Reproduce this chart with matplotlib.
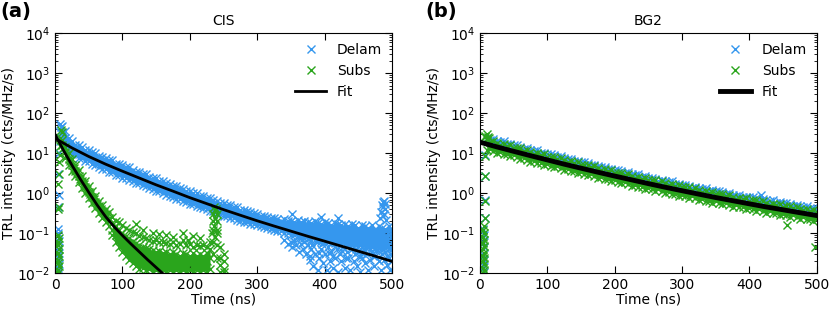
import numpy as np
import matplotlib
matplotlib.use("Agg")
from matplotlib import pyplot as plt
from matplotlib.ticker import NullFormatter

# ---------------- data ----------------
grid = np.arange(10, 505, 5)          # sampling channels 10..500 ns (99)
y_ticks = [1e-2, 1e-1, 1e0, 1e1, 1e2, 1e3, 1e4]

# --- CIS, Delam (blue) ---
cis_delam_hi = [49, 36, 24, 20, 16.5, 16.7, 14.2, 12.2, 12.2, 10.6,
                10.4, 8.5, 8.2, 7.9, 6.9, 6.8, 5.6, 5.4, 5.2, 4.6,
                4.5, 3.9, 3.5, 3.5, 3.1, 3.07, 2.65, 2.4, 2.37, 2.1,
                2.1, 1.82, 1.77, 1.57, 1.56, 1.35, 1.31, 1.17, 1.14, 1.01,
                1.01, 0.88, 0.86, 0.77, 0.77, 0.67, 0.65, 0.58, 0.58, 0.51,
                0.50, 0.45, 0.45, 0.39, 0.39, 0.355, 0.34, 0.33, 0.30, 0.28,
                0.28, 0.26, 0.25, 0.25, 0.23, 0.21, 0.23, 0.20, 0.21, 0.19,
                0.22, 0.19, 0.20, 0.19, 0.18, 0.20, 0.18, 0.17, 0.19, 0.18,
                0.16, 0.18, 0.17, 0.16, 0.17, 0.15, 0.17, 0.16, 0.14, 0.16,
                0.15, 0.14, 0.16, 0.13, 0.15, 0.14, 0.13, 0.15, 0.13]
cis_delam_mid = [32, 24, 16.6, 13.2, 12.6, 11, 10.5, 9.1, 8.5, 7.6,
                 7.2, 6.3, 6.0, 5.4, 5.1, 4.6, 4.3, 3.8, 3.6, 3.3,
                 3.1, 2.8, 2.7, 2.4, 2.3, 2.04, 1.95, 1.78, 1.66, 1.51,
                 1.45, 1.32, 1.23, 1.12, 1.07, 0.98, 0.91, 0.83, 0.79, 0.72,
                 0.69, 0.63, 0.60, 0.55, 0.52, 0.48, 0.46, 0.42, 0.40, 0.36,
                 0.35, 0.32, 0.31, 0.29, 0.275, 0.26, 0.245, 0.24, 0.224, 0.22,
                 0.204, 0.2, 0.19, 0.18, 0.178, 0.17, 0.166, 0.158, 0.158, 0.151,
                 0.155, 0.141, 0.13, 0.135, 0.14, 0.132, 0.118, 0.126, 0.128, 0.12,
                 0.11, 0.117, 0.118, 0.115, 0.103, 0.107, 0.112, 0.105, 0.096, 0.1,
                 0.105, 0.098, 0.09, 0.095, 0.097, 0.091, 0.086, 0.089, 0.092]
cis_delam_lo = [25, 17.8, 12.6, 9.8, 9.3, 7.9, 7.6, 6.5, 6.3, 5.4,
                5.2, 4.6, 4.2, 4.0, 3.5, 3.4, 2.95, 2.9, 2.5, 2.45,
                2.14, 2.1, 1.82, 1.78, 1.58, 1.51, 1.35, 1.32, 1.15, 1.12,
                1.0, 0.93, 0.87, 0.81, 0.74, 0.72, 0.65, 0.62, 0.56, 0.54,
                0.49, 0.47, 0.43, 0.41, 0.37, 0.355, 0.32, 0.31, 0.28, 0.27,
                0.245, 0.24, 0.22, 0.21, 0.195, 0.19, 0.174, 0.17, 0.158, 0.151,
                0.141, 0.138, 0.129, 0.123, 0.117, 0.112, 0.105, 0.1, 0.093, 0.089,
                0.085, 0.079, 0.076, 0.074, 0.069, 0.068, 0.065, 0.063, 0.06, 0.06,
                0.058, 0.056, 0.055, 0.054, 0.052, 0.051, 0.05, 0.05, 0.048, 0.047,
                0.047, 0.045, 0.045, 0.044, 0.043, 0.042, 0.042, 0.04, 0.04]
cis_delam_rise_t = [4, 5, 6, 4, 5, 6, 4, 5, 6, 5, 5, 5, 6, 5, 6, 7, 8, 9, 8]
cis_delam_rise_v = [0.011, 0.014, 0.017, 0.021, 0.026, 0.032, 0.04, 0.05, 0.065,
                    0.1, 0.13, 0.45, 0.9, 3.1, 10, 20, 35, 45, 55]
cis_delam_tail_t = [340, 345, 350, 352, 358, 362, 365, 368, 372, 375, 378, 380,
                    383, 385, 388, 390, 392, 395, 398, 400, 403, 405, 408, 410,
                    413, 415, 418, 420, 423, 425, 428, 430, 433, 435, 438, 440,
                    443, 445, 448, 450, 453, 455, 458, 460, 463, 465, 468, 470,
                    473, 475, 478, 480, 483, 485, 488, 490, 493, 495, 498, 500,
                    497, 352, 395, 420, 482, 484, 485, 486, 487, 488, 489, 490,
                    491, 486, 488,
                    355, 370, 382, 396, 406, 416, 426, 436, 446, 456, 466, 476,
                    486, 494, 362, 378, 392, 412, 432, 452, 472, 492]
cis_delam_tail_v = [0.07, 0.055, 0.06, 0.045, 0.05, 0.035, 0.055, 0.04, 0.03, 0.05,
                    0.022, 0.04, 0.015, 0.03, 0.06, 0.012, 0.025, 0.04, 0.018, 0.03,
                    0.012, 0.045, 0.02, 0.035, 0.014, 0.025, 0.04, 0.011, 0.03, 0.02,
                    0.045, 0.014, 0.035, 0.025, 0.012, 0.04, 0.02, 0.03, 0.015, 0.035,
                    0.011, 0.025, 0.04, 0.018, 0.03, 0.012, 0.022, 0.035, 0.015, 0.028,
                    0.04, 0.02, 0.012, 0.03, 0.022, 0.035, 0.016, 0.025, 0.03, 0.02,
                    0.012, 0.3, 0.26, 0.24, 0.25, 0.35, 0.5, 0.6, 0.45, 0.3,
                    0.55, 0.4, 0.22, 0.28, 0.65,
                    0.065, 0.06, 0.05, 0.055, 0.033, 0.048, 0.036, 0.05, 0.04, 0.032,
                    0.045, 0.036, 0.04, 0.05, 0.075, 0.028, 0.032, 0.028, 0.024, 0.026,
                    0.027, 0.028]

# --- CIS, Subs (green) ---
subs_band_t = np.arange(10, 85, 5)     # 10..80 ns
subs_half_t = np.arange(12.5, 80, 5)   # 12.5..77.5 ns
cis_subs_hi = [35, 14.8, 10, 7.2, 5.2, 3.8, 2.75, 2.1, 1.5, 1.15, 0.85, 0.66, 0.52, 0.42, 0.35]
cis_subs_mid = [22, 10.7, 7.4, 5.2, 3.7, 2.75, 2.0, 1.48, 1.1, 0.83, 0.62, 0.48, 0.37, 0.30, 0.24]
cis_subs_lo = [16, 7.6, 5.2, 3.7, 2.7, 1.9, 1.4, 1.05, 0.78, 0.58, 0.44, 0.33, 0.25, 0.195, 0.15]
cis_subs_half = [14, 9.3, 6.3, 4.4, 3.2, 2.3, 1.75, 1.28, 0.95, 0.72, 0.55, 0.42, 0.34, 0.27]
cloud_t = np.arange(85, 255, 5)        # 85..250 ns
cis_subs_r1 = [0.26, 0.21, 0.19, 0.16, 0.14, 0.125, 0.11, 0.1, 0.085, 0.08,
               0.075, 0.07, 0.065, 0.068, 0.06, 0.062, 0.058, 0.055, 0.06, 0.05,
               0.055, 0.07, 0.05, 0.055, 0.045, 0.05, 0.048, 0.052, 0.045, 0.06,
               0.3, 0.2, 0.045, 0.03]
cis_subs_r2 = [0.18, 0.15, 0.12, 0.1, 0.085, 0.075, 0.065, 0.058, 0.05, 0.045,
               0.042, 0.04, 0.038, 0.035, 0.037, 0.033, 0.035, 0.03, 0.034, 0.03,
               0.028, 0.033, 0.03, 0.028, 0.032, 0.027, 0.03, 0.028, 0.032, 0.04,
               0.12, 0.1, 0.025, 0.02]
cis_subs_r3 = [0.12, 0.09, 0.075, 0.06, 0.05, 0.04, 0.035, 0.03, 0.028, 0.024,
               0.025, 0.022, 0.02, 0.023, 0.019, 0.021, 0.018, 0.02, 0.017, 0.019,
               0.02, 0.017, 0.019, 0.018, 0.016, 0.019, 0.017, 0.018, 0.02, 0.025,
               0.06, 0.05, 0.016, 0.013]
cis_subs_r4 = [0.09, 0.06, 0.045, 0.035, 0.028, 0.022, 0.018, 0.015, 0.013, 0.014,
               0.012, 0.013, 0.011, 0.012, 0.011, 0.012, 0.011, 0.012, 0.011, 0.012,
               0.011, 0.012, 0.011, 0.012, 0.011, 0.012, 0.011, 0.012, 0.011, 0.013,
               0.03, 0.025, 0.011, 0.011]
cis_subs_rise_t = [4, 5, 6, 5, 4, 6, 5, 6, 5, 4, 6, 5, 5, 6, 5, 6, 6, 7, 8, 9, 7]
cis_subs_rise_v = [0.010, 0.012, 0.015, 0.018, 0.022, 0.027, 0.033, 0.04, 0.05, 0.06,
                   0.075, 0.09, 0.4, 0.45, 1.7, 3, 6, 15, 25, 38, 9]
cis_subs_extra_t = [233, 234, 236, 237, 238, 236, 239, 240, 241, 238,
                    120, 130, 145, 165, 190, 205, 215, 175, 155, 198]
cis_subs_extra_v = [0.1, 0.2, 0.45, 0.38, 0.25, 0.15, 0.4, 0.3, 0.12, 0.08,
                    0.17, 0.12, 0.1, 0.09, 0.1, 0.085, 0.075, 0.08, 0.095, 0.07]

# --- CIS fits ---
cis_delam_fit_t = np.arange(0, 525, 25)
cis_delam_fit = [23.7, 13.8, 8.4, 5.4, 3.6, 2.43, 1.64, 1.14, 0.785, 0.556, 0.394,
                 0.285, 0.207, 0.153, 0.114, 0.085, 0.064, 0.048, 0.036, 0.027, 0.020]
cis_subs_fit_t = np.arange(0, 175, 12.5)
cis_subs_fit = [30.2, 12.0, 5.13, 2.29, 1.07, 0.513, 0.263, 0.148, 0.089, 0.055,
                0.0347, 0.0219, 0.0141, 0.0091]

# --- BG2, Delam (blue) ---
bg2_delam_hi = [24.8, 21.9, 22.9, 20.7, 19.2, 20.0, 16.9, 17.2, 16.0, 15.9,
                14.8, 13.1, 13.7, 12.4, 11.6, 12.1, 10.3, 10.4, 9.73, 9.71,
                9.04, 8.04, 8.4, 7.64, 7.13, 7.45, 6.34, 6.47, 6.04, 6.04,
                5.64, 5.02, 5.26, 4.8, 4.49, 4.7, 4.01, 4.1, 3.84, 3.85,
                3.6, 3.21, 3.37, 3.08, 2.88, 3.03, 2.59, 2.66, 2.49, 2.5,
                2.34, 2.1, 2.21, 2.02, 1.9, 2.0, 1.71, 1.76, 1.65, 1.66,
                1.56, 1.4, 1.48, 1.36, 1.28, 1.35, 1.15, 1.19, 1.15, 1.16,
                1.09, 0.977, 1.01, 0.929, 0.877, 0.927, 0.796, 0.822, 0.794, 0.802,
                0.757, 0.682, 0.723, 0.667, 0.63, 0.667, 0.574, 0.596, 0.562, 0.57,
                0.538, 0.486, 0.516, 0.478, 0.452, 0.48, 0.424, 0.43, 0.398]
bg2_delam_rise_t = [6, 5, 6, 5, 6, 5, 6, 5, 7, 7, 8, 8, 418]
bg2_delam_rise_v = [0.011, 0.016, 0.022, 0.03, 0.045, 0.06, 0.09, 0.13, 0.7, 0.25, 9, 2.7, 0.92]

# --- BG2, Subs (green) ---
bg2_subs_hi = [22.6, 19.5, 20.8, 18.5, 16.3, 17.0, 15.5, 16.1, 13.6, 13.6,
               13.5, 11.7, 12.5, 11.1, 9.8, 10.3, 9.35, 9.75, 8.28, 8.26,
               8.24, 7.16, 7.66, 6.81, 6.07, 6.34, 5.78, 6.04, 5.14, 5.14,
               5.14, 4.48, 4.8, 4.28, 3.82, 4.0, 3.66, 3.83, 3.27, 3.27,
               3.28, 2.86, 3.08, 2.75, 2.45, 2.58, 2.36, 2.48, 2.12, 2.13,
               2.14, 1.87, 2.01, 1.80, 1.61, 1.70, 1.56, 1.64, 1.41, 1.42,
               1.42, 1.25, 1.35, 1.21, 1.09, 1.15, 1.05, 1.11, 0.953, 0.962,
               0.97, 0.851, 0.92, 0.828, 0.746, 0.789, 0.726, 0.767, 0.661, 0.667,
               0.675, 0.594, 0.644, 0.581, 0.524, 0.555, 0.512, 0.543, 0.468, 0.474,
               0.48, 0.424, 0.46, 0.416, 0.376, 0.399, 0.369, 0.393, 0.339]
bg2_subs_lo = [12.4, 13.2, 11.7, 10.4, 11.0, 9.8, 9.75, 8.43, 9.0, 8.17,
               7.41, 7.91, 7.03, 6.24, 6.65, 5.92, 5.9, 5.12, 5.47, 4.98,
               4.53, 4.84, 4.31, 3.83, 4.1, 3.65, 3.65, 3.17, 3.4, 3.1,
               2.82, 3.03, 2.7, 2.4, 2.58, 2.3, 2.31, 2.01, 2.16, 1.97,
               1.8, 1.94, 1.73, 1.55, 1.66, 1.49, 1.49, 1.3, 1.4, 1.28,
               1.17, 1.26, 1.13, 1.01, 1.09, 0.977, 0.984, 0.861, 0.929, 0.853,
               0.782, 0.843, 0.757, 0.679, 0.735, 0.659, 0.664, 0.583, 0.63, 0.579,
               0.533, 0.575, 0.518, 0.466, 0.505, 0.454, 0.458, 0.403, 0.437, 0.402,
               0.371, 0.402, 0.362, 0.327, 0.354, 0.319, 0.323, 0.285, 0.309, 0.286,
               0.264, 0.286, 0.259, 0.234, 0.254, 0.23, 0.233, 0.206, 0.224]
bg2_subs_rise_t = [5, 6, 5, 6, 5, 6, 5, 6, 5, 6, 5, 6, 5, 6, 5, 6, 7, 7, 7, 8, 8,
                   8, 10, 12, 14, 456, 498]
bg2_subs_rise_v = [0.01, 0.012, 0.014, 0.017, 0.02, 0.024, 0.028, 0.033, 0.04, 0.048,
                   0.057, 0.068, 0.08, 0.1, 0.12, 0.15, 0.25, 0.65, 2.8, 8.5, 28,
                   26, 30, 26, 24, 0.16, 0.046]

# --- BG2 fit ---
bg2_fit_t = np.arange(0, 525, 25)
bg2_fit = [19.1, 14.6, 11.3, 8.8, 6.9, 5.4, 4.28, 3.4, 2.72, 2.19, 1.76,
           1.43, 1.17, 0.96, 0.79, 0.66, 0.55, 0.46, 0.39, 0.33, 0.28]

# ---------------- assemble series ----------------
cis_delam_t = np.concatenate([cis_delam_rise_t, grid, grid, grid, cis_delam_tail_t])
cis_delam_v = np.concatenate([cis_delam_rise_v, cis_delam_hi, cis_delam_mid,
                              cis_delam_lo, cis_delam_tail_v])
cis_subs_t = np.concatenate([cis_subs_rise_t, subs_band_t, subs_band_t, subs_band_t,
                             subs_half_t, cloud_t, cloud_t, cloud_t, cloud_t,
                             cis_subs_extra_t])
cis_subs_v = np.concatenate([cis_subs_rise_v, cis_subs_hi, cis_subs_mid, cis_subs_lo,
                             cis_subs_half, cis_subs_r1, cis_subs_r2, cis_subs_r3,
                             cis_subs_r4, cis_subs_extra_v])
bg2_delam_t = np.concatenate([bg2_delam_rise_t, grid])
bg2_delam_v = np.concatenate([bg2_delam_rise_v, bg2_delam_hi])
bg2_subs_t = np.concatenate([bg2_subs_rise_t, grid, grid])
bg2_subs_v = np.concatenate([bg2_subs_rise_v, bg2_subs_hi, bg2_subs_lo])

blue = '#3597ee'
green = '#2aa51c'

fig = plt.figure(figsize=(8.3, 3.1), dpi=100)
ax1 = fig.add_axes([0.0663, 0.118, 0.406, 0.774])
ax2 = fig.add_axes([0.5783, 0.118, 0.4057, 0.774])

mk = dict(marker='x', linestyle='none', markersize=5.5, markeredgewidth=1.0)

# dense cores of the point clouds (many overlapping counts in the original)
ax1.fill_between(grid, cis_delam_lo, cis_delam_hi, color=blue, lw=0)
ax1.fill_between(subs_band_t, cis_subs_lo, cis_subs_hi, color=green, lw=0)
ax1.fill_between(cloud_t[:30], cis_subs_r4[:30], cis_subs_r2[:30], color=green, lw=0)

ax1.plot(cis_delam_t, cis_delam_v, color=blue, label='Delam', **mk)
ax1.plot(cis_subs_t, cis_subs_v, color=green, label='Subs', **mk)
ax1.plot(cis_delam_fit_t, cis_delam_fit, color='black', lw=2, label='Fit')
ax1.plot(cis_subs_fit_t, cis_subs_fit, color='black', lw=2)

ax2.fill_between(grid, bg2_subs_hi, bg2_delam_hi, color=blue, lw=0)
ax2.plot(bg2_delam_t, bg2_delam_v, color=blue, label='Delam', **mk)
ax2.fill_between(grid, bg2_subs_lo, bg2_subs_hi, color=green, lw=0)
ax2.plot(bg2_subs_t, bg2_subs_v, color=green, label='Subs', **mk)
ax2.plot(bg2_fit_t, bg2_fit, color='black', lw=3.5, label='Fit')

for ax, title, tag in [(ax1, 'CIS', '(a)'), (ax2, 'BG2', '(b)')]:
    ax.set_yscale('log')
    ax.set_xlim(0, 500)
    ax.set_ylim(1e-2, 1e4)
    ax.set_xticks([0, 100, 200, 300, 400, 500])
    ax.set_yticks(y_ticks)
    ax.yaxis.set_minor_formatter(NullFormatter())
    ax.tick_params(which='both', direction='in', top=True, right=True, labelsize=10)
    ax.tick_params(which='major', length=5)
    ax.tick_params(which='minor', length=2.5)
    ax.set_xlabel('Time (ns)', fontsize=10, labelpad=0)
    ax.set_ylabel('TRL intensity (cts/MHz/s)', fontsize=10, labelpad=1)
    ax.set_title(title, fontsize=10, pad=6)
    ax.legend(loc='upper right', frameon=False, numpoints=1, fontsize=10,
              handlelength=2.2, borderaxespad=0.3)
    pos = ax.get_position()
    fig.text(pos.x0 - 0.066, 0.995, tag, fontsize=14, fontweight='bold',
             ha='left', va='top')

fig.savefig('out.png', dpi=100)
